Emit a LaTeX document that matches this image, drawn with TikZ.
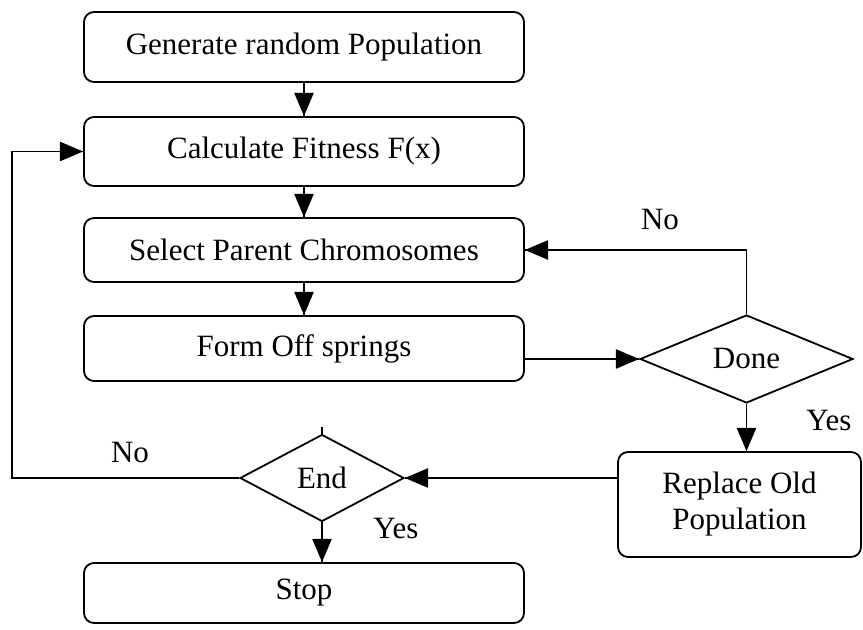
\documentclass[tikz,border=0pt]{standalone}
\usepackage{fontspec}
\setmainfont{Liberation Serif}
\usetikzlibrary{arrows}
\usetikzlibrary{decorations.markings}
\usetikzlibrary{shapes.geometric}
\usetikzlibrary{positioning}
\tikzset{flow/.style = {decoration={markings,
                                    mark=at position 1 with {\arrow[scale=1.4]{triangle 45}}},
                        postaction={decorate}}}
\tikzset{stepbox/.style = {draw, rounded corners=5pt, line width=0.9pt,
                           minimum width=220pt, font=\fontsize{15.5}{18}\selectfont}}
\tikzset{choice/.style = {draw, diamond, inner sep=0pt, line width=0.9pt,
                          font=\fontsize{15.5}{18}\selectfont}}

\begin{document}
\begin{tikzpicture}[x=0.5pt, y=-0.5pt, line width=0.9pt]
    \useasboundingbox (0, 0) rectangle (863, 630);
    \node [stepbox, minimum height=35pt] (gen) at (304, 47) {Generate random Population};
    \node [stepbox, minimum height=34.5pt] (fit) at (304, 151.5) {Calculate Fitness F(x)};
    \node [stepbox, minimum height=32pt] (sel) at (304, 250) {Select Parent Chromosomes};
    \node [stepbox, minimum height=32.5pt] (off) at (304, 348.5) {Form Off springs};
    \node [choice, minimum width=106.5pt, minimum height=44pt] (done) at (746.5, 359) {Done};
    \node [stepbox, minimum width=121.5pt, minimum height=52.5pt, align=center] (rep) at (739.5, 504.5) {Replace Old\\Population};
    \node [choice, minimum width=82pt, minimum height=43.5pt] (end) at (322, 478) {End};
    \node [stepbox, minimum height=30pt] (stop) at (304, 593) {Stop};
    \coordinate (back) at (12, 478);

    \draw [flow] (gen) -- (fit);
    \draw [flow] (fit) -- (sel);
    \draw [flow] (sel) -- (off);
    \draw [flow] (done.west -| off.east) -- (done.west);
    \draw [flow] (done.north) |- (sel.east);
    \draw [flow] (done.south) -- (done.south |- rep.north);
    \draw [flow] (end.east -| rep.west) -- (end.east);
    \draw [flow] (end.west) -- (back) |- (fit.west);
    \draw [flow] (end.south) -- (end.south |- stop.north);
    \draw (end.north) -- ++(0, -7);

    \node [font=\fontsize{15.5}{18}\selectfont] (no1) at (660, 220) {No};
    \node [font=\fontsize{15.5}{18}\selectfont] (yes1) at (829, 421) {Yes};
    \node [font=\fontsize{15.5}{18}\selectfont] (no2) at (130, 453) {No};
    \node [font=\fontsize{15.5}{18}\selectfont] (yes2) at (396, 529) {Yes};
  \end{tikzpicture}
\end{document}
